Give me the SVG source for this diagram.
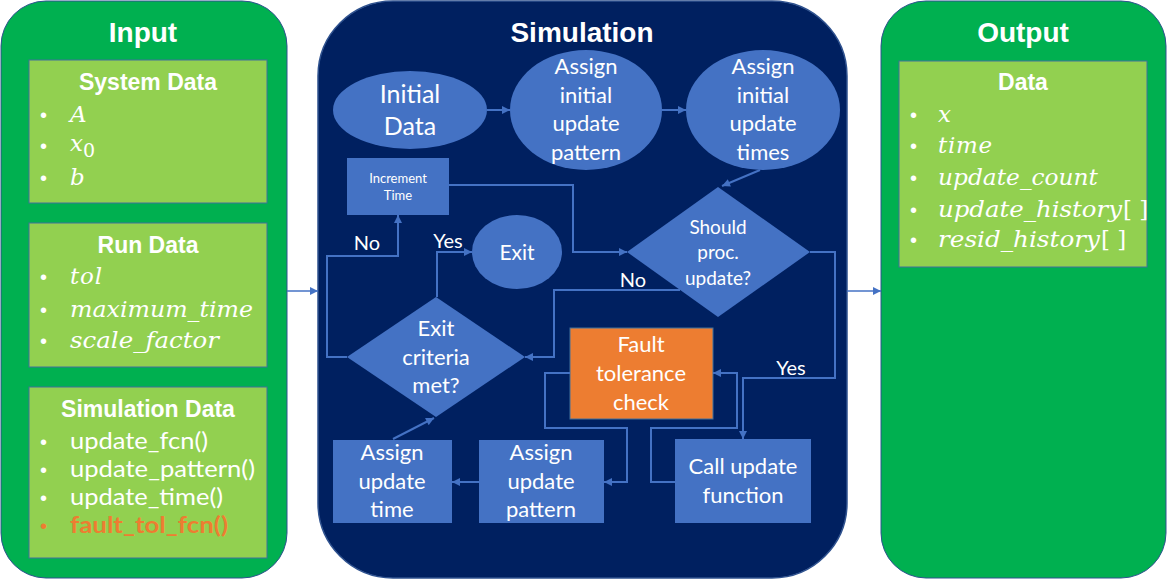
<svg xmlns="http://www.w3.org/2000/svg" width="1168" height="582" viewBox="0 0 1168 582">
<defs>
<marker id="ah" viewBox="0 0 10 10" refX="10" refY="5" markerUnits="userSpaceOnUse" markerWidth="9" markerHeight="8" orient="auto">
<path d="M0,0 L10,5 L0,10 z" fill="#4472C4"/>
</marker>
<style>
.panelG{fill:#00B050;stroke:#2F528F;stroke-width:1}
.panelN{fill:#002060;stroke:#2F528F;stroke-width:1.5}
.sub{fill:#92D050;stroke:#41719C;stroke-width:1}
.title{font-family:"Liberation Sans",Arial,sans-serif;font-weight:bold;font-size:28px;fill:#fff;text-anchor:middle}
.subt{font-family:"Liberation Sans",Arial,sans-serif;font-weight:bold;font-size:23px;fill:#fff;text-anchor:middle}
.bul{font-family:"Liberation Sans",Arial,sans-serif;font-size:20px;fill:#fff}
.math{font-family:"DejaVu Serif",serif;font-style:italic;font-size:23px;fill:#fff}
.up{font-style:normal}
.item{font-family:Lato,"Liberation Sans",sans-serif;font-size:23px;fill:#fff}
.node{fill:#4472C4}
.fault{fill:#ED7D31;stroke:#41719C;stroke-width:1}
.nt{font-family:Lato,"Liberation Sans",sans-serif;font-size:22px;fill:#fff;text-anchor:middle}
.lbl{font-family:Lato,"Liberation Sans",sans-serif;font-size:20px;fill:#fff;text-anchor:middle}
.conn path{fill:none;stroke:#4472C4;stroke-width:2;marker-end:url(#ah)}
</style>
</defs>

<g id="input">
<rect class="panelG" x="1" y="1" width="286" height="577" rx="45"/>
<text class="title" x="143" y="42">Input</text>
</g>
<g id="system-data">
<rect class="sub" x="29" y="60" width="238" height="143"/>
<text class="subt" x="148" y="90">System Data</text>
<text class="bul" x="40" y="122">•</text><text class="math" x="70" y="122">A</text>
<text class="bul" x="40" y="153">•</text><text class="math" x="70" y="151">x<tspan class="up" font-size="19px" dy="6">0</tspan></text>
<text class="bul" x="40" y="185">•</text><text class="math" x="70" y="185">b</text>
</g>
<g id="run-data">
<rect class="sub" x="29" y="223" width="238" height="144"/>
<text class="subt" x="148" y="253">Run Data</text>
<text class="bul" x="40" y="284">•</text><text class="math" x="70" y="284" textLength="32">tol</text>
<text class="bul" x="40" y="317">•</text><text class="math" x="70" y="317" textLength="183" lengthAdjust="spacingAndGlyphs">maximum_time</text>
<text class="bul" x="40" y="348">•</text><text class="math" x="70" y="348" textLength="149" lengthAdjust="spacingAndGlyphs">scale_factor</text>
</g>
<g id="simulation-data">
<rect class="sub" x="29" y="387" width="238" height="171"/>
<text class="subt" x="148" y="417">Simulation Data</text>
<text class="bul" x="40" y="449">•</text><text class="item" x="70" y="449" textLength="138" lengthAdjust="spacingAndGlyphs">update_fcn()</text>
<text class="bul" x="40" y="477">•</text><text class="item" x="70" y="477" textLength="185" lengthAdjust="spacingAndGlyphs">update_pattern()</text>
<text class="bul" x="40" y="505">•</text><text class="item" x="70" y="505" textLength="153" lengthAdjust="spacingAndGlyphs">update_time()</text>
<text class="bul" x="40" y="533" fill="#ED7D31" style="fill:#ED7D31">•</text><text class="item" x="70" y="533" font-weight="bold" style="fill:#ED7D31" textLength="158" lengthAdjust="spacingAndGlyphs">fault_tol_fcn()</text>
</g>

<g id="simulation">
<rect class="panelN" x="318" y="1" width="529" height="577" rx="75"/>
<text class="title" x="582" y="42">Simulation</text>
</g>

<g id="output">
<rect class="panelG" x="881" y="1" width="285" height="577" rx="45"/>
<text class="title" x="1023" y="42">Output</text>
</g>
<g id="output-data">
<rect class="sub" x="899" y="61" width="248" height="206"/>
<text class="subt" x="1023" y="90">Data</text>
<text class="bul" x="910" y="122">•</text><text class="math" x="938" y="122">x</text>
<text class="bul" x="910" y="153">•</text><text class="math" x="938" y="153" textLength="54">time</text>
<text class="bul" x="910" y="185">•</text><text class="math" x="938" y="185" textLength="160" lengthAdjust="spacingAndGlyphs">update_count</text>
<text class="bul" x="910" y="217">•</text><text class="math" x="938" y="217"><tspan textLength="184" lengthAdjust="spacingAndGlyphs">update_history</tspan><tspan class="up" font-family="DejaVu Serif,serif" x="1123">[ ]</tspan></text>
<text class="bul" x="910" y="247">•</text><text class="math" x="938" y="247"><tspan textLength="162" lengthAdjust="spacingAndGlyphs">resid_history</tspan><tspan class="up" x="1101">[ ]</tspan></text>
</g>

<g id="initial-data">
<ellipse class="node" cx="410" cy="110" rx="77" ry="39"/>
<text class="nt" font-size="25px" style="font-size:25px"><tspan x="410" y="103">Initial</tspan><tspan x="410" y="135">Data</tspan></text>
</g>
<g id="assign-initial-pattern">
<ellipse class="node" cx="586" cy="110" rx="76" ry="60"/>
<text class="nt"><tspan x="586" y="74">Assign</tspan><tspan x="586" y="103">initial</tspan><tspan x="586" y="131">update</tspan><tspan x="586" y="160">pattern</tspan></text>
</g>
<g id="assign-initial-times">
<ellipse class="node" cx="763" cy="110" rx="77" ry="60"/>
<text class="nt"><tspan x="763" y="74">Assign</tspan><tspan x="763" y="103">initial</tspan><tspan x="763" y="131">update</tspan><tspan x="763" y="160">times</tspan></text>
</g>
<g id="increment-time">
<rect class="node" x="347" y="158" width="102" height="57"/>
<text class="nt" style="font-size:13px"><tspan x="398" y="183">Increment</tspan><tspan x="398" y="200">Time</tspan></text>
</g>
<g id="exit">
<ellipse class="node" cx="517" cy="252" rx="45" ry="37"/>
<text class="nt" style="font-size:21px" x="517" y="260">Exit</text>
</g>
<g id="should-proc">
<polygon class="node" points="627,252 718,187 810,252 718,317"/>
<text class="nt" style="font-size:19px"><tspan x="718" y="234">Should</tspan><tspan x="718" y="259">proc.</tspan><tspan x="718" y="285">update?</tspan></text>
</g>
<g id="exit-criteria">
<polygon class="node" points="347,357 436,297 525,357 436,417"/>
<text class="nt"><tspan x="436" y="336">Exit</tspan><tspan x="436" y="365">criteria</tspan><tspan x="436" y="393">met?</tspan></text>
</g>
<g id="fault-tolerance">
<rect class="fault" x="570" y="328" width="143" height="91"/>
<text class="nt"><tspan x="641" y="352">Fault</tspan><tspan x="641" y="381">tolerance</tspan><tspan x="641" y="410">check</tspan></text>
</g>
<g id="call-update">
<rect class="node" x="675" y="439" width="136" height="84"/>
<text class="nt"><tspan x="743" y="474">Call update</tspan><tspan x="743" y="503">function</tspan></text>
</g>
<g id="assign-update-pattern">
<rect class="node" x="479" y="440" width="125" height="83"/>
<text class="nt"><tspan x="541" y="460">Assign</tspan><tspan x="541" y="489">update</tspan><tspan x="541" y="517">pattern</tspan></text>
</g>
<g id="assign-update-time">
<rect class="node" x="333" y="440" width="119" height="83"/>
<text class="nt"><tspan x="392" y="460">Assign</tspan><tspan x="392" y="489">update</tspan><tspan x="392" y="517">time</tspan></text>
</g>

<g id="connectors" class="conn">
<path d="M287,291 H318" style="stroke-width:1.5"/>
<path d="M847,291 H881" style="stroke-width:1.5"/>
<path d="M487,110 H510"/>
<path d="M662,110 H686"/>
<path d="M760,170 L722,186"/>
<path d="M449,185 H573 V252 H627"/>
<path d="M810,252 H835 V378 H743 V439"/>
<path d="M680,290 H554 V357 H525"/>
<path d="M347,357 H327 V256 H398 V215"/>
<path d="M437,297 V252 H472"/>
<path d="M675,482 H651 V428 H737 V373 H713"/>
<path d="M570,373 H545 V428 H627 V482 H604"/>
<path d="M479,482 H452"/>
<path d="M393,439 L434,418"/>
</g>
<g id="labels">
<text class="lbl" x="367" y="250">No</text>
<text class="lbl" x="448" y="248">Yes</text>
<text class="lbl" x="633" y="287">No</text>
<text class="lbl" x="791" y="375">Yes</text>
</g>
</svg>
